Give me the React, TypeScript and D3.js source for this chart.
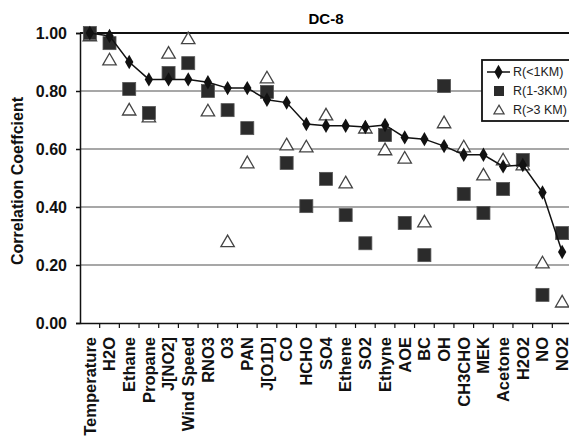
import React, { useEffect, useRef } from "react";
import * as d3 from "d3";

// categories along the x axis
const categories = [
  "Temperature", "H2O", "Ethane", "Propane", "J[NO2]", "Wind Speed", "RNO3", "O3", "PAN",
  "J[O1D]", "CO", "HCHO", "SO4", "Ethene", "SO2", "Ethyne", "AOE", "BC", "OH", "CH3CHO",
  "MEK", "Acetone", "H2O2", "NO", "NO2",
];

// R(<1KM) - drawn as line with diamonds
const rLow = [
  1.0, 0.99, 0.9, 0.84, 0.84, 0.84, 0.83, 0.81, 0.81, 0.77, 0.76, 0.686, 0.68, 0.68, 0.676,
  0.683, 0.64, 0.634, 0.61, 0.58, 0.58, 0.54, 0.545, 0.45, 0.245,
];

// R(1-3KM) - squares
const rMid = [
  1.0, 0.965, 0.807, 0.724, 0.862, 0.896, 0.8, 0.734, 0.672, 0.797, 0.552, 0.403, 0.497,
  0.372, 0.275, 0.648, 0.345, 0.234, 0.817, 0.445, 0.379, 0.462, 0.562, 0.097, 0.31,
];

// R(>3KM) - open triangles
const rHigh = [
  0.99, 0.907, 0.734, 0.71, 0.93, 0.98, 0.731, 0.28, 0.552, 0.845, 0.614, 0.607, 0.717,
  0.483, 0.672, 0.597, 0.568, 0.348, 0.69, 0.607, 0.51, 0.562, 0.545, 0.207, 0.072,
];

const yTicks = [0, 0.2, 0.4, 0.6, 0.8, 1.0];
const seriesNames = ["R(<1KM)", "R(1-3KM)", "R(>3 KM)"];

const App = () => {
  const ref = useRef<SVGSVGElement>(null);

  useEffect(() => {
    const svg = d3.select(ref.current);
    svg.selectAll("*").remove();

    const font = "'Liberation Sans', Arial, sans-serif";
    const left = 80, right = 572, top = 33, bottom = 323;

    const x = d3.scaleBand().domain(categories).range([left, right]);
    const y = d3.scaleLinear().domain([0, 1]).range([bottom, top]);
    const cx = (d: string) => (x(d) as number) + x.bandwidth() / 2;

    // gridlines
    svg.append("g")
      .selectAll("line")
      .data(yTicks.filter((t) => t > 0 && t < 1))
      .enter()
      .append("line")
      .attr("x1", left).attr("x2", right)
      .attr("y1", (d) => y(d)).attr("y2", (d) => y(d))
      .attr("stroke", "#8a8a8a")
      .attr("stroke-width", 1.5);

    // top border
    svg.append("line")
      .attr("x1", left).attr("x2", right)
      .attr("y1", y(1)).attr("y2", y(1))
      .attr("stroke", "#111").attr("stroke-width", 2);

    // y axis
    const yAxis = svg.append("g")
      .attr("transform", `translate(${left},0)`)
      .call(d3.axisLeft(y).tickValues(yTicks).tickFormat(d3.format(".2f")).tickSizeOuter(0).tickSize(4));
    yAxis.select(".domain").attr("stroke", "#111").attr("stroke-width", 1.5);
    yAxis.selectAll(".tick line").attr("stroke", "#111").attr("stroke-width", 1.5);
    yAxis.selectAll(".tick text")
      .attr("x", -13)
      .style("font-family", font)
      .style("font-size", "16px")
      .style("font-weight", "bold")
      .attr("fill", "#111");

    // x axis
    const xAxis = svg.append("g")
      .attr("transform", `translate(0,${bottom})`)
      .call(d3.axisBottom(x).tickSize(0).tickSizeOuter(0));
    xAxis.select(".domain").attr("stroke", "#111").attr("stroke-width", 1.5);
    xAxis.selectAll(".tick text")
      .attr("transform", "rotate(-90)")
      .attr("x", -14)
      .attr("y", 0)
      .attr("dy", "0.35em")
      .attr("text-anchor", "end")
      .style("font-family", font)
      .style("font-size", "16.5px")
      .style("font-weight", "bold")
      .attr("fill", "#111");
    // category separator ticks
    svg.append("g")
      .selectAll("line")
      .data(categories.slice(1))
      .enter()
      .append("line")
      .attr("x1", (d) => x(d) as number).attr("x2", (d) => x(d) as number)
      .attr("y1", bottom).attr("y2", bottom + 5)
      .attr("stroke", "#111").attr("stroke-width", 1.2);

    // triangles (>3 KM)
    const tri = d3.symbol().type(d3.symbolTriangle).size(78);
    svg.append("g")
      .selectAll("path")
      .data(rHigh)
      .enter()
      .append("path")
      .attr("d", tri)
      .attr("transform", (d, i) => `translate(${cx(categories[i])},${y(d) + 1})`)
      .attr("fill", "white")
      .attr("stroke", "#444")
      .attr("stroke-width", 1.3);

    // squares (1-3 KM)
    svg.append("g")
      .selectAll("rect")
      .data(rMid)
      .enter()
      .append("rect")
      .attr("x", (d, i) => cx(categories[i]) - 6.5)
      .attr("y", (d) => y(d) - 6.5)
      .attr("width", 13).attr("height", 13)
      .attr("fill", "#2b2b2b")
      .attr("stroke", "#555")
      .attr("stroke-width", 0.8);

    // line + diamonds (<1 KM)
    const line = d3.line<number>()
      .x((d, i) => cx(categories[i]))
      .y((d) => y(d));
    svg.append("path")
      .datum(rLow)
      .attr("d", line)
      .attr("fill", "none")
      .attr("stroke", "#111")
      .attr("stroke-width", 1.5);
    const diamond = d3.symbol().type(d3.symbolDiamond).size(60);
    svg.append("g")
      .selectAll("path")
      .data(rLow)
      .enter()
      .append("path")
      .attr("d", diamond)
      .attr("transform", (d, i) => `translate(${cx(categories[i])},${y(d)})`)
      .attr("fill", "#111");

    // title
    svg.append("text")
      .attr("x", 326).attr("y", 23.5)
      .attr("text-anchor", "middle")
      .style("font-family", font)
      .style("font-size", "15px")
      .style("font-weight", "bold")
      .text("DC-8");

    // y label
    svg.append("text")
      .attr("transform", `translate(23,${(top + bottom) / 2 + 3}) rotate(-90)`)
      .attr("text-anchor", "middle")
      .style("font-family", font)
      .style("font-size", "16px")
      .style("font-weight", "bold")
      .attr("fill", "#111")
      .text("Correlation Coeffcient");

    // legend
    const lg = svg.append("g").attr("transform", "translate(482,60)");
    lg.append("rect")
      .attr("width", 92).attr("height", 61)
      .attr("fill", "white")
      .attr("stroke", "#111").attr("stroke-width", 1.8);
    const rowY = [12, 31, 50];
    lg.append("line").attr("x1", 5).attr("x2", 28).attr("y1", rowY[0]).attr("y2", rowY[0])
      .attr("stroke", "#111").attr("stroke-width", 1.5);
    lg.append("path").attr("d", diamond).attr("transform", `translate(16.5,${rowY[0]})`).attr("fill", "#111");
    lg.append("rect").attr("x", 12).attr("y", rowY[1] - 5).attr("width", 10).attr("height", 10).attr("fill", "#2b2b2b");
    lg.append("path").attr("d", d3.symbol().type(d3.symbolTriangle).size(45))
      .attr("transform", `translate(17,${rowY[2] + 1})`)
      .attr("fill", "white").attr("stroke", "#444").attr("stroke-width", 1.2);
    lg.selectAll("text.lab")
      .data(seriesNames)
      .enter()
      .append("text")
      .attr("class", "lab")
      .attr("x", 31)
      .attr("y", (d, i) => rowY[i])
      .attr("dy", "0.35em")
      .style("font-family", font)
      .style("font-size", "12.5px")
      .attr("fill", "#222")
      .text((d) => d);
  }, []);

  return (
    <svg
      ref={ref}
      width={569}
      height={442}
      style={{ position: "absolute", left: 0, top: 0, background: "white" }}
    ></svg>
  );
};

export default App;
